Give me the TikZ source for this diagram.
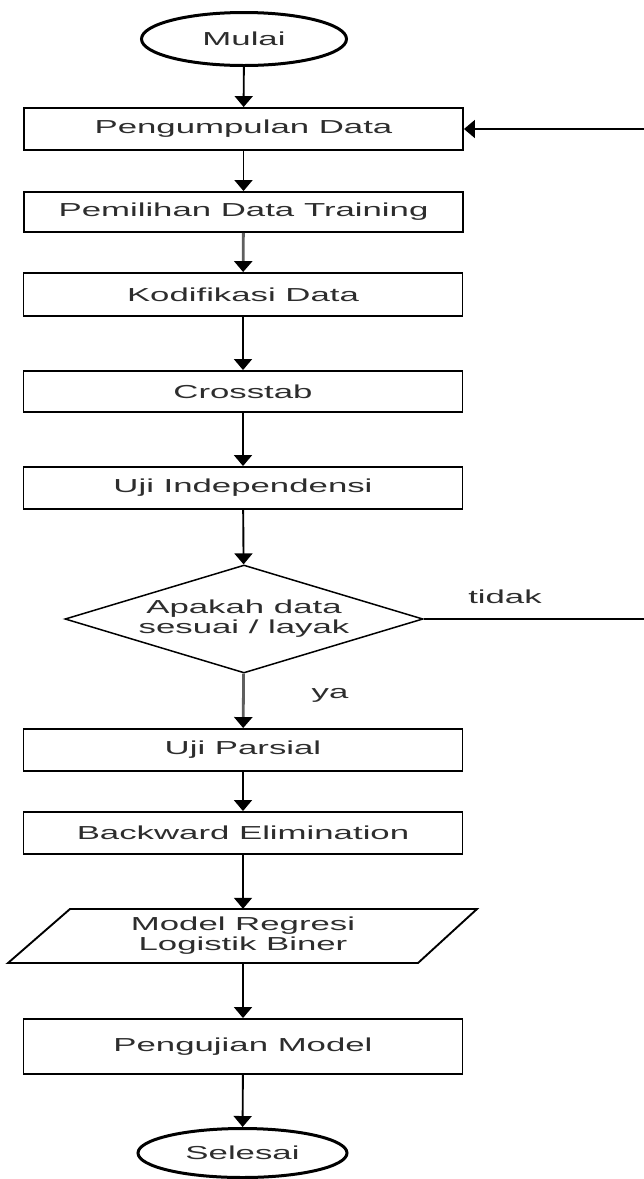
\documentclass[tikz,border=0pt]{standalone}
\usepackage{fontspec}
\setmainfont[FakeStretch=1.85]{Liberation Sans}
\usetikzlibrary{shapes.geometric,arrows.meta}
\definecolor{txt}{RGB}{45,45,45}
\definecolor{lgray}{RGB}{95,95,95}
\begin{document}
\begin{tikzpicture}[x=1pt,y=-1pt,
  every node/.style={font=\fontsize{18.8}{20}\selectfont, text=txt},
  proc/.style={draw=black, line width=1.9pt, rectangle, minimum width=439pt, minimum height=42pt, inner sep=0pt},
  term/.style={draw=black, line width=3pt, ellipse, minimum width=205pt, minimum height=53pt, inner sep=0pt},
  dec/.style={draw=black, line width=1.5pt, diamond, aspect=3.3, minimum width=358pt, minimum height=108pt, inner sep=0pt, align=center},
  conn/.style={draw=black, line width=1.9pt, -{Triangle[width=18pt,length=11pt]}},
  gconn/.style={draw=lgray, line width=2.8pt, -{Triangle[width=18pt,length=11pt,color=black]}},
  lbl/.style={inner sep=0pt}
]
\useasboundingbox (0,0) rectangle (644,1179);

\node[term] (start) at (244,39) {Mulai};
\node[proc] (p1) at (243.5,129) {Pengumpulan Data};
\node[proc, minimum height=40pt] (p2) at (243.5,212) {Pemilihan Data Training};
\node[proc, minimum height=43pt] (p3) at (243,294.5) {Kodifikasi Data};
\node[proc, minimum height=41pt] (p4) at (243,391.5) {Crosstab};
\node[proc] (p5) at (243,488) {Uji Independensi};
\node[dec] (d) at (244,619) {Apakah data\\sesuai / layak};
\node[proc] (p6) at (243,750) {Uji Parsial};
\node[proc] (p7) at (243,833) {Backward Elimination};
\node[minimum width=345pt, minimum height=54pt, inner sep=0pt, align=center] (par) at (243,936) {Model Regresi\\Logistik Biner};
\draw[line width=1.9pt, shift={(par.center)}] (-173,-27) -- (234,-27) -- (175,27) -- (-235,27) -- cycle;
\node[proc, minimum height=55pt] (p8) at (243,1046.5) {Pengujian Model};
\node[term, minimum width=209pt, minimum height=49pt] (end) at (242.5,1153) {Selesai};

\node[lbl] (tidak) at (505,597) {tidak};
\node[lbl] (ya) at (330,695) {ya};

\draw[conn] (start) -- (p1);
\draw[conn] (p1) -- (p2);
\draw[gconn] (p2) -- (p3);
\draw[conn] (p3) -- (p4);
\draw[conn] (p4) -- (p5);
\draw[conn] (p5) -- (d);
\draw[gconn] (d) -- (p6);
\draw[conn] (p6) -- (p7);
\draw[conn] (p7) -- (par);
\draw[conn] (par) -- (p8);
\draw[conn] (p8) -- (end);
\coordinate (loop) at (650,129);
\draw[conn] (d.east) -| (loop) -- (p1.east);
\end{tikzpicture}
\end{document}
